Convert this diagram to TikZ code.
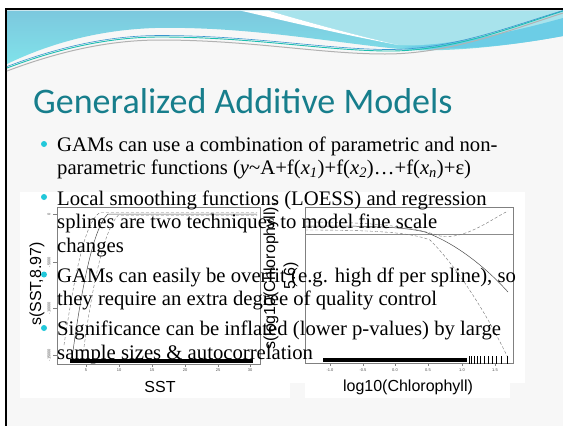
\documentclass[tikz,border=0pt]{standalone}
\usepackage{fontspec}
\setmainfont{Liberation Serif}
\setsansfont{Liberation Sans}
\newfontfamily\titlefont{Carlito}
\usepackage{xcolor}
\usetikzlibrary{positioning, arrows.meta}

\definecolor{slidegray}{HTML}{F7F7F7}
\definecolor{hdrtop}{HTML}{7CC8DE}
\definecolor{hdrbot}{HTML}{80E2EA}
\definecolor{hdrlight}{HTML}{A8E3EC}
\definecolor{hdrband}{HTML}{6CCDE6}
\definecolor{waveteal}{HTML}{1DBFB0}
\definecolor{waveblue}{HTML}{3A96CE}
\definecolor{titleteal}{HTML}{177E8C}
\definecolor{bulletcyan}{HTML}{22C8DA}

\begin{document}
\begin{tikzpicture}[x=1pt, y=-1pt,
    bodytext/.style={anchor=base west, inner sep=0pt, font=\fontsize{20.7}{23}\selectfont},
    bulletdot/.style={circle, fill=bulletcyan, inner sep=0pt, minimum size=6pt},
    axislabel/.style={font=\sffamily\fontsize{16}{20}\selectfont, inner sep=0pt},
    ticklabel/.style={font=\sffamily\fontsize{4}{5}\selectfont, inner sep=0pt, text=black!70},
    band/.style={densely dashed, line width=0.4pt, black!55},
    fitline/.style={line width=0.5pt, black!70}]
    \useasboundingbox (0,0) rectangle (563,426);
    \fill[white] (0,0) rectangle (563,426);

    % Slide background and border
    \fill[slidegray] (6,9) rectangle (563,426);
    \draw[line width=2.5pt] (5,9) -- (563,9);
    \draw[line width=2.5pt] (6,9) -- (6,426);

    % Header waves
    \shade[top color=hdrtop, bottom color=hdrbot] (7,10.5) -- (563,10.5) -- (563,36)
        .. controls (520,44) and (460,52) .. (410,50)
        .. controls (340,44) and (250,26) .. (155,28)
        .. controls (90,30) and (40,48) .. (7,64) -- cycle;
    \fill[hdrlight] (268,10.5) -- (563,10.5) -- (563,24)
        .. controls (500,38) and (450,46) .. (398,45)
        .. controls (350,34) and (300,20) .. (268,10.5) -- cycle;
    \fill[white] (240,10.5) -- (268,10.5)
        .. controls (300,20) and (350,34) .. (398,45)
        .. controls (340,34) and (290,22) .. (240,10.5) -- cycle;
    \fill[hdrband] (400,47) .. controls (460,44) and (520,30) .. (563,18)
        -- (563,36) .. controls (520,44) and (460,52) .. (400,47) -- cycle;
    \draw[black!30, line width=1pt] (7,71) .. controls (60,51) and (110,40) .. (160,40)
        .. controls (250,40) and (320,54) .. (385,54) .. controls (450,54) and (510,30) .. (563,13);
    \draw[waveteal, line width=0.9pt] (7,68) .. controls (60,48) and (110,37) .. (160,37)
        .. controls (250,37) and (320,50) .. (385,51) .. controls (450,52) and (510,28) .. (563,11);
    \draw[waveblue, line width=0.6pt] (7,66.5) .. controls (60,46.5) and (110,35.5) .. (160,35.5)
        .. controls (250,35.5) and (320,48.5) .. (385,49.5) .. controls (450,50.5) and (510,26.5) .. (563,10.5);

    % Title
    \node[anchor=base west, inner sep=0pt, text=titleteal, font=\titlefont\fontsize{36}{40}\selectfont] (title) at (33,113) {Generalized Additive Models};

    % Plot images
    \fill[white] (20,192) rectangle (290,398);
    \fill[white] (290,192) rectangle (525,383);
    \fill[white] (305,383) rectangle (510,398);

    % Left plot: s(SST)
    \draw[black!50, line width=0.5pt] (57,207) rectangle (260,364);
    \foreach \ty/\tl in {214/0, 262/-5000, 308/-10000, 355/-15000} {
        \draw[black!50, line width=0.4pt] (57,\ty) -- (53,\ty);
        \node[ticklabel, rotate=90] at (49,\ty) {\tl};
    }
    \foreach \tx/\tl in {86/5, 119/10, 152/15, 185/20, 218/25, 250/30} {
        \draw[black!50, line width=0.4pt] (\tx,364) -- (\tx,367);
        \node[ticklabel] at (\tx,370) {\tl};
    }
    \draw[band] (64,345) .. controls (74,280) and (84,222) .. (100,212.5) -- (257,212.5);
    \draw[fitline] (72,358) .. controls (80,300) and (92,228) .. (108,214) -- (257,214);
    \draw[band] (82,362) .. controls (90,300) and (102,232) .. (118,215.5) -- (257,215.5);
    \draw[line width=4pt] (70,361) -- (253,361);
    \node[axislabel] (sstlab) at (160,387) {SST};
    \node[axislabel, rotate=90] (sstylab) at (37,284) {s(SST,8.97)};

    % Right plot: s(log10(Chlorophyll))
    \draw[black!50, line width=0.5pt] (305,207) rectangle (513,363);
    \draw[black!45, line width=0.5pt] (305,234) -- (513,234);
    \foreach \tx/\tl in {330/-1.0, 363/-0.5, 395/0.0, 428/0.5, 462/1.0, 495/1.5} {
        \draw[black!50, line width=0.4pt] (\tx,363) -- (\tx,366);
        \node[ticklabel] at (\tx,370) {\tl};
    }
    \draw[band] (305,222) .. controls (370,222) and (410,226) .. (440,236)
        .. controls (465,240) and (490,220) .. (508,211);
    \draw[fitline] (305,226) .. controls (360,226) and (400,226) .. (425,232)
        .. controls (460,245) and (490,272) .. (508,292);
    \draw[band] (305,230) .. controls (370,230) and (410,232) .. (430,240)
        .. controls (460,270) and (490,320) .. (508,358);
    \draw[line width=4pt] (323,360) -- (467,360);
    \foreach \rx in {469,471,474,477,480,484,488,492,496,501,507} {
        \draw[line width=0.5pt] (\rx,356) -- (\rx,364);
    }
    \node[axislabel] (chllab) at (408,387) {log10(Chlorophyll)};
    \node[axislabel, rotate=90, align=center] (chlylab) at (281,276) {s(log10(Chlorophyll),\\5.6)};

    % Bullets
    \node[bulletdot] (d1) at (44,144) {};
    \node[bulletdot] (d2) at (44,197) {};
    \node[bulletdot] (d3) at (44,274.5) {};
    \node[bulletdot] (d4) at (44,328) {};

    % Bullet text
    \node[bodytext] (l1) at (57,151) {GAMs can use a combination of parametric and non-};
    \node[bodytext] (l2) at (57,174.5) {parametric functions (\textit{y}\textasciitilde A+f(\textit{x}\textsubscript{\textit{1}})+f(\textit{x}\textsubscript{\textit{2}})…+f(\textit{x}\textsubscript{\textit{n}})+ε)};
    \node[bodytext] (l3) at (57,205) {Local smoothing functions (LOESS) and regression};
    \node[bodytext] (l4) at (57,228.5) {splines are two techniques to model fine scale};
    \node[bodytext] (l5) at (57,252) {changes};
    \node[bodytext] (l6) at (57,282) {GAMs can easily be overfit (e.g. high df per spline), so};
    \node[bodytext] (l7) at (57,305.5) {they require an extra degree of quality control};
    \node[bodytext] (l8) at (57,335.5) {Significance can be inflated (lower p-values) by large};
    \node[bodytext] (l9) at (57,359) {sample sizes \& autocorrelation};
\end{tikzpicture}
\end{document}
